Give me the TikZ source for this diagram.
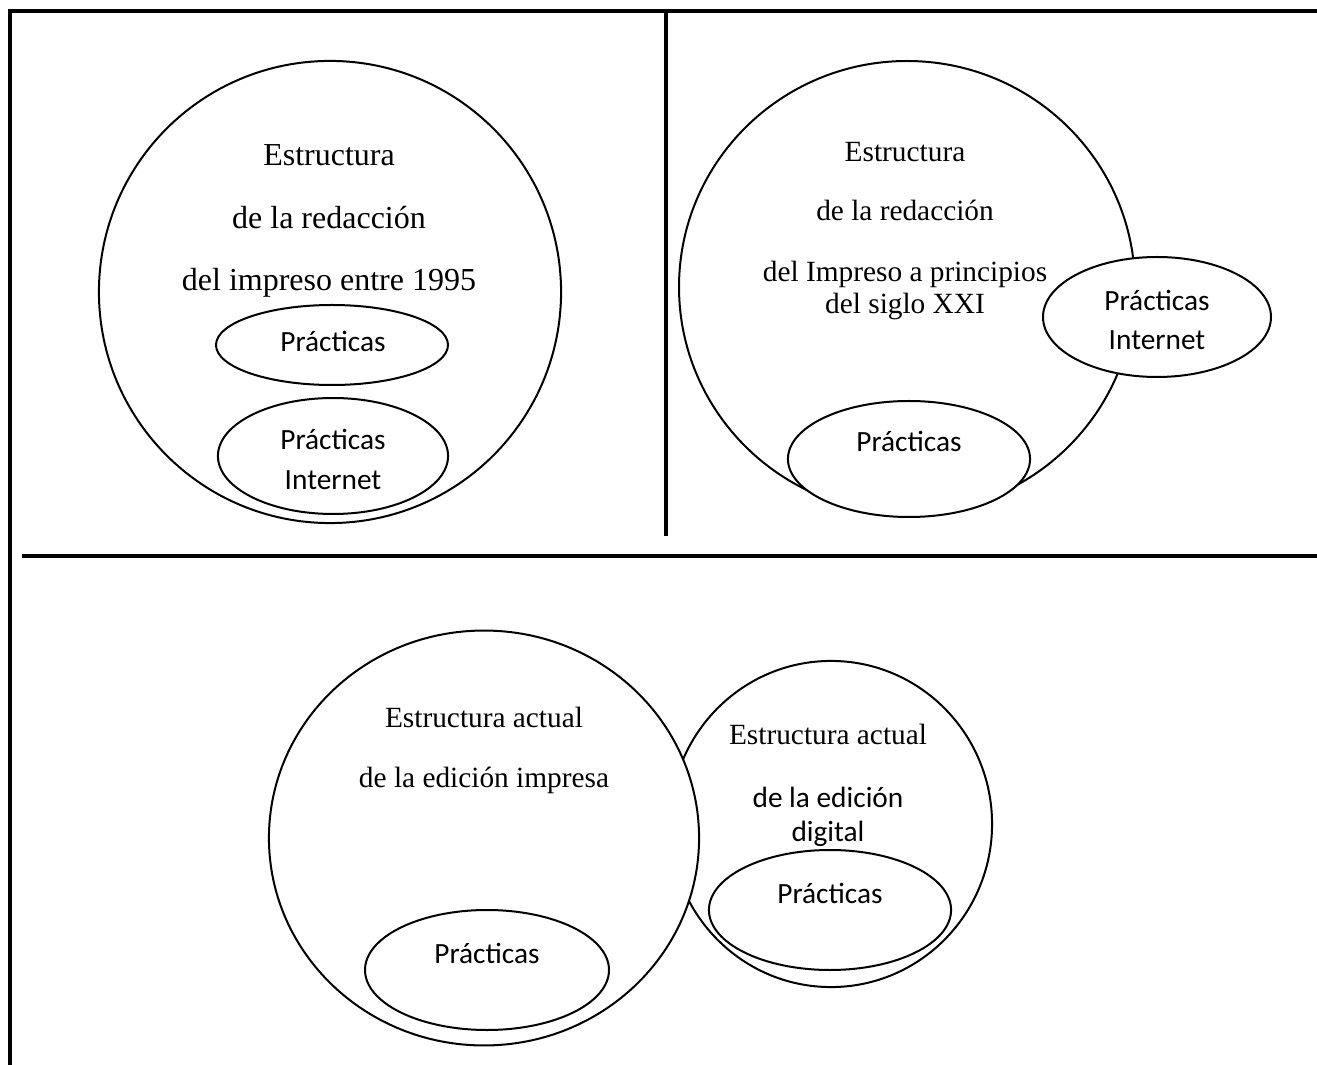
\documentclass[tikz,border=0pt]{standalone}
\usepackage{fontspec}
\setmainfont{Liberation Serif}
\newfontfamily\calibri{Carlito}
\usetikzlibrary{shapes.geometric}

\tikzset{
  blob/.style={draw, ellipse, fill=white, inner sep=0pt, line width=0.75pt},
  rule/.style={line width=1.5pt},
  serif/.style={inner sep=0pt, anchor=base, font=\fontsize{11}{13}\selectfont},
  bigserif/.style={inner sep=0pt, anchor=base, font=\fontsize{12}{14}\selectfont},
  sans/.style={inner sep=0pt, anchor=base, font=\calibri\fontsize{11}{13}\selectfont},
}

\begin{document}
\begin{tikzpicture}[x=0.375pt,y=0.375pt,yscale=-1,xscale=1]
\useasboundingbox (0,0) rectangle (1317,1065);

%Frame lines
\draw [rule] (10,1065) -- (10,11) -- (1317,11) ;
\draw [rule] (666,11) -- (666,536) ;
\draw [line width=1.8pt] (22,556) -- (1317,556) ;

%Top left panel
\node [blob, minimum width=173.3pt, minimum height=173.3pt] (tlBig) at (330,292) {};
\node [blob, minimum width=87pt, minimum height=30pt] (tlPrac) at (332,345) {};
\node [blob, minimum width=86.3pt, minimum height=43.5pt] (tlNet) at (333,456) {};
% Text Node
\node [bigserif] (tlTitA) at (329,166) {Estructura};
\node [bigserif] (tlTitB) at (329,229) {de la redacción};
\node [bigserif] (tlTitC) at (329,291) {del impreso entre 1995};
\node [sans] (tlPracTxt) at (333,352) {Prácticas};
\node [sans] (tlNetA) at (333,450) {Prácticas};
\node [sans] (tlNetB) at (333,490) {Internet};

%Top right panel
\node [blob, minimum width=171pt, minimum height=169.5pt] (trBig) at (907,287) {};
\node [blob, minimum width=85.5pt, minimum height=45pt] (trNet) at (1157,317) {};
\node [blob, minimum width=90.8pt, minimum height=43.5pt] (trPrac) at (909,459) {};
% Text Node
\node [serif] (trTitA) at (905,162) {Estructura};
\node [serif] (trTitB) at (905,221) {de la redacción};
\node [serif] (trTitC) at (905,282) {del Impreso a principios};
\node [serif] (trTitD) at (905,314) {del siglo XXI};
\node [sans] (trNetA) at (1157,311) {Prácticas};
\node [sans] (trNetB) at (1157,350) {Internet};
\node [sans] (trPracTxt) at (909,452) {Prácticas};

%Bottom panel
\node [blob, minimum width=120.8pt, minimum height=122.3pt] (brBig) at (831,824) {};
\node [blob, minimum width=161.3pt, minimum height=155.6pt] (blBig) at (484,838) {};
\node [blob, minimum width=91.5pt, minimum height=45pt] (blPrac) at (487,970) {};
\node [blob, minimum width=90.8pt, minimum height=45pt] (brPrac) at (830,910) {};
% Text Node
\node [serif] (blTitA) at (484,727) {Estructura actual};
\node [serif] (blTitB) at (484,787) {de la edición impresa};
\node [sans] (blPracTxt) at (487,963) {Prácticas};
\node [serif] (brTitA) at (828,744) {Estructura actual};
\node [sans] (brTitB) at (828,807) {de la edición};
\node [sans] (brTitC) at (828,841) {digital};
\node [sans] (brPracTxt) at (830,903) {Prácticas};

\end{tikzpicture}
\end{document}
